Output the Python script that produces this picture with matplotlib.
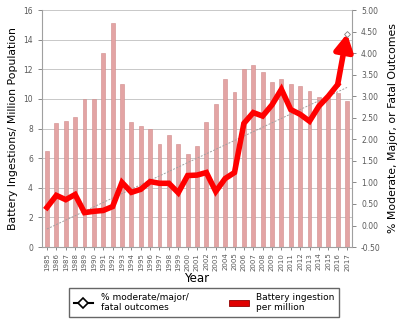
import numpy as np
import matplotlib.pyplot as plt
from matplotlib.lines import Line2D
from matplotlib.patches import Patch

years = list(range(1985, 2018))
ingestions_per_million = [6.5, 8.35, 8.5, 8.8, 10.0, 10.0, 13.1, 15.1, 11.0, 8.45,
                          8.15, 8.0, 6.95, 7.55, 6.95, 6.3, 6.85, 8.45, 9.65, 11.35,
                          10.5, 12.0, 12.3, 11.8, 11.15, 11.35, 11.0, 10.9, 10.55, 10.15,
                          10.05, 10.4, 9.85]
pct_severe = [0.42, 0.70, 0.60, 0.72, 0.30, 0.33, 0.35, 0.44, 1.00, 0.77,
              0.84, 1.02, 0.98, 0.98, 0.76, 1.16, 1.17, 1.23, 0.79, 1.09,
              1.23, 2.37, 2.62, 2.54, 2.80, 3.16, 2.69, 2.58, 2.42, 2.77,
              3.00, 3.27, 4.45]

x = np.arange(len(years))

fig = plt.figure(figsize=(4.0, 3.23), dpi=100)
ax = fig.add_axes([0.105, 0.235, 0.775, 0.734])
ax2 = ax.twinx()

grey = '#595959'
ax.bar(x, ingestions_per_million, width=0.42, color='#E3A4A4', edgecolor='#D08A8A', linewidth=0.4, zorder=2)
ax.set_ylim(0, 16)
ax.set_yticks(range(0, 17, 2))
ax.set_xlim(-0.53, len(years) - 0.47)
ax.set_xticks(x)
ax.set_xticklabels([str(y) for y in years], rotation=90, fontsize=5, color=grey)
ax.tick_params(axis='y', labelsize=5.5, colors=grey, length=3, width=0.5)
ax.tick_params(axis='x', length=2.5, width=0.5, colors=grey, pad=1.5)
ax.grid(axis='y', color='#C8C8C8', linewidth=0.7, zorder=0)
ax.set_axisbelow(True)
ax.spines['top'].set_visible(False)
ax.spines['left'].set_color('#A0A0A0')
ax.spines['bottom'].set_color('#A0A0A0')
ax.spines['right'].set_visible(False)
ax.set_ylabel('Battery Ingestions/ Million Population', fontsize=7.8, labelpad=4)
ax.set_xlabel('Year', fontsize=8.5, labelpad=1)

# trendline of the outcome series
k, b = np.polyfit(x, pct_severe, 1)
ax2.plot(x, k * x + b, color='#A0A0A0', linestyle=(0, (2, 1.5)), linewidth=0.7, zorder=3)

ax2.plot(x[:-1], pct_severe[:-1], color='#FF0000', linewidth=4, solid_joinstyle='miter', zorder=4)
ax2.annotate('', xy=(x[-1], pct_severe[-1]), xytext=(x[-2], pct_severe[-2]),
             arrowprops=dict(arrowstyle='-|>,head_length=1.0,head_width=0.55',
                             color='#FF0000', lw=4, shrinkA=0, shrinkB=0), zorder=5)
ax2.plot([x[-1]], [pct_severe[-1]], marker='D', markersize=3, markerfacecolor='white',
         markeredgecolor='#808080', markeredgewidth=0.6, zorder=6)
ax2.set_ylim(-0.5, 5.0)
ax2.set_yticks(np.arange(-0.5, 5.01, 0.5))
ax2.set_yticklabels(['%.2f' % v for v in np.arange(-0.5, 5.01, 0.5)])
ax2.tick_params(axis='y', labelsize=5.5, colors=grey, length=3, width=0.5)
for s in ['top', 'left', 'bottom']:
    ax2.spines[s].set_visible(False)
ax2.spines['right'].set_color('#A0A0A0')
ax2.set_ylabel('% Moderate, Major, or Fatal Outcomes', fontsize=7.8, labelpad=5)

handles = [Line2D([0], [0], color='black', linewidth=1.5, marker='D', markersize=5,
                  markerfacecolor='white', markeredgecolor='black', markeredgewidth=1.2),
           Patch(facecolor='#E00000', edgecolor='#900000', linewidth=0.6)]
fig.legend(handles, ['% moderate/major/\nfatal outcomes', 'Battery ingestion\nper million'],
           loc='center', bbox_to_anchor=(0.51, 0.063), ncol=2, fontsize=6.5,
           frameon=True, fancybox=False, edgecolor='#404040', handlelength=2.2,
           columnspacing=4.5, borderpad=0.5, labelspacing=0.2)

fig.savefig('out.png', dpi=100)
